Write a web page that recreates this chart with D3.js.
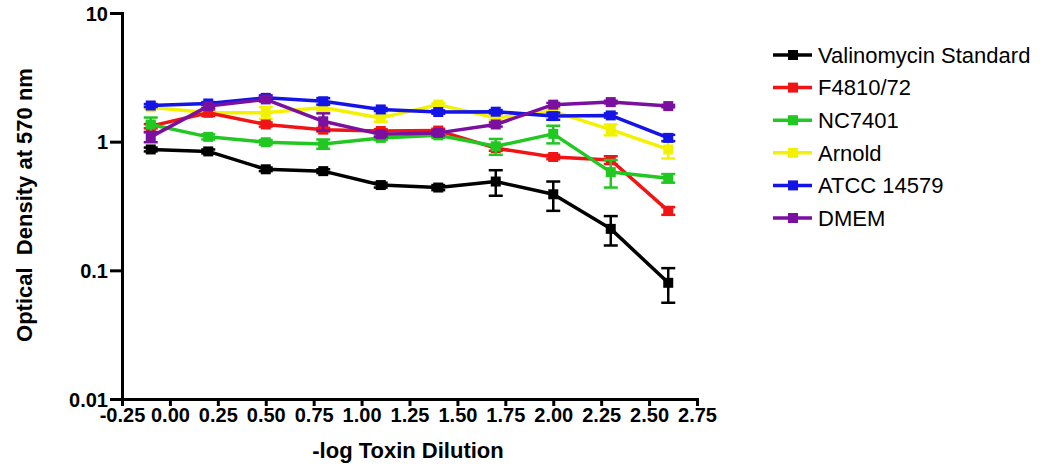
<!DOCTYPE html>
<html>
<head>
<meta charset="utf-8">
<script src="https://cdn.jsdelivr.net/npm/d3@7"></script>
<style>
  body { margin: 0; background: #fff; }
  text { font-family: "Liberation Sans", Arial, sans-serif; }
</style>
</head>
<body>
<div id="chart"></div>
<script>
// toxin dilution (x) and optical density (y) values
var dilution = [-0.1, 0.2, 0.5, 0.8, 1.1, 1.4, 1.7, 2.0, 2.3, 2.6];

var names   = ["Valinomycin Standard", "F4810/72", "NC7401", "Arnold", "ATCC 14579", "DMEM"];
var colours = ["#000000", "#f01414", "#22c822", "#f2f200", "#1414e6", "#7a0fa0"];

var valinomycin    = [0.87, 0.84, 0.61, 0.59, 0.46, 0.44, 0.49, 0.39, 0.21, 0.080];
var valinomycinErr = [0.03, 0.03, 0.02, 0.02, 0.02, 0.02, 0.11, 0.10, 0.054, 0.024];
var f4810    = [1.32, 1.68, 1.36, 1.24, 1.21, 1.22, 0.89, 0.76, 0.72, 0.29];
var f4810Err = [0.05, 0.10, 0.05, 0.04, 0.04, 0.04, 0.04, 0.03, 0.05, 0.02];
var nc7401    = [1.36, 1.09, 0.99, 0.96, 1.07, 1.12, 0.92, 1.15, 0.58, 0.52];
var nc7401Err = [0.18, 0.05, 0.04, 0.08, 0.04, 0.05, 0.13, 0.18, 0.14, 0.04];
var arnold    = [1.85, 1.68, 1.68, 1.84, 1.53, 1.94, 1.53, 1.72, 1.24, 0.87];
var arnoldErr = [0.05, 0.08, 0.18, 0.10, 0.10, 0.05, 0.06, 0.08, 0.12, 0.13];
var atcc    = [1.91, 1.98, 2.19, 2.06, 1.78, 1.70, 1.71, 1.58, 1.60, 1.07];
var atccErr = [0.05, 0.05, 0.10, 0.12, 0.05, 0.05, 0.05, 0.10, 0.06, 0.06];
var dmem    = [1.09, 1.89, 2.13, 1.44, 1.14, 1.17, 1.36, 1.94, 2.03, 1.89];
var dmemErr = [0.10, 0.06, 0.08, 0.22, 0.05, 0.05, 0.05, 0.06, 0.05, 0.04];

var xTicks = [-0.25, 0, 0.25, 0.5, 0.75, 1, 1.25, 1.5, 1.75, 2, 2.25, 2.5, 2.75];
var yTicks = [0.01, 0.1, 1, 10];

var allValues = [valinomycin, f4810, nc7401, arnold, atcc, dmem];
var allErrors = [valinomycinErr, f4810Err, nc7401Err, arnoldErr, atccErr, dmemErr];

var series = names.map(function(n, i) {
    return {
        name: n,
        colour: colours[i],
        points: dilution.map(function(x, j) {
            return {x: x, y: allValues[i][j], e: allErrors[i][j]};
        })
    };
});

var width = 1040, height = 466;
var margin = {top: 13, left: 122};
var plotW = 575, plotH = 386;

var svg = d3.select("#chart").append("svg")
    .attr("width", width)
    .attr("height", height);

var g = svg.append("g")
    .attr("transform", "translate(" + margin.left + "," + margin.top + ")");

var x = d3.scaleLinear().domain([-0.25, 2.75]).range([0, plotW]);
var y = d3.scaleLog().domain([0.01, 10]).range([plotH, 0]);

// axes
var xAxis = g.append("g")
    .attr("transform", "translate(0," + plotH + ")")
    .call(d3.axisBottom(x).tickValues(xTicks)
        .tickFormat(function(d) { return d.toFixed(2); })
        .tickSize(7).tickPadding(2));

var yAxis = g.append("g")
    .call(d3.axisLeft(y).tickValues(yTicks).tickFormat(function(d) { return String(d); }).tickSize(12).tickPadding(2));

[xAxis, yAxis].forEach(function(a) {
    a.select(".domain").attr("stroke", "#000").attr("stroke-width", 3);
    a.selectAll(".tick line").attr("stroke", "#000").attr("stroke-width", 3);
    a.selectAll(".tick text")
        .attr("fill", "#000")
        .style("font-size", "20px")
        .style("font-weight", "bold");
});
yAxis.selectAll(".tick text").attr("dy", "0.36em");

// axis titles
svg.append("text")
    .attr("x", 408)
    .attr("y", 458)
    .attr("text-anchor", "middle")
    .style("font-size", "22px")
    .style("font-weight", "bold")
    .text("-log Toxin Dilution");

svg.append("text")
    .attr("transform", "translate(32,205) rotate(-90)")
    .attr("text-anchor", "middle")
    .style("font-size", "22px")
    .style("font-weight", "bold")
    .style("white-space", "pre")
    .text("Optical  Density at 570 nm");

// draw order: yellow underneath
var drawOrder = [3, 0, 1, 2, 4, 5];

var line = d3.line()
    .x(function(d) { return x(d.x); })
    .y(function(d) { return y(d.y); });

var cap = 7;
var box = 10;

drawOrder.forEach(function(i) {
    var s = series[i];
    var sg = g.append("g");

    // error bars
    var eb = sg.selectAll(".err")
        .data(s.points.filter(function(d) { return d.e > 0; }))
        .enter().append("g");
    eb.append("line")
        .attr("x1", function(d) { return x(d.x); })
        .attr("x2", function(d) { return x(d.x); })
        .attr("y1", function(d) { return y(d.y + d.e); })
        .attr("y2", function(d) { return y(d.y - d.e); })
        .attr("stroke", s.colour).attr("stroke-width", 2.5);
    eb.append("line")
        .attr("x1", function(d) { return x(d.x) - cap; })
        .attr("x2", function(d) { return x(d.x) + cap; })
        .attr("y1", function(d) { return y(d.y + d.e); })
        .attr("y2", function(d) { return y(d.y + d.e); })
        .attr("stroke", s.colour).attr("stroke-width", 2.5);
    eb.append("line")
        .attr("x1", function(d) { return x(d.x) - cap; })
        .attr("x2", function(d) { return x(d.x) + cap; })
        .attr("y1", function(d) { return y(d.y - d.e); })
        .attr("y2", function(d) { return y(d.y - d.e); })
        .attr("stroke", s.colour).attr("stroke-width", 2.5);

    sg.append("path")
        .datum(s.points)
        .attr("d", line)
        .attr("fill", "none")
        .attr("stroke", s.colour)
        .attr("stroke-width", 3.5)
        .attr("stroke-linejoin", "round");

    sg.selectAll("rect")
        .data(s.points)
        .enter().append("rect")
        .attr("x", function(d) { return x(d.x) - box / 2; })
        .attr("y", function(d) { return y(d.y) - box / 2; })
        .attr("width", box)
        .attr("height", box)
        .attr("fill", s.colour);
});

// legend
var legend = svg.append("g").attr("transform", "translate(773,55)");
series.forEach(function(s, i) {
    var row = legend.append("g").attr("transform", "translate(0," + (i * 32.6) + ")");
    row.append("line")
        .attr("x1", 0).attr("x2", 39)
        .attr("y1", 0).attr("y2", 0)
        .attr("stroke", s.colour).attr("stroke-width", 3.5);
    row.append("rect")
        .attr("x", 15).attr("y", -5)
        .attr("width", 10).attr("height", 10)
        .attr("fill", s.colour);
    row.append("text")
        .attr("x", 45)
        .attr("y", 0)
        .attr("dy", "0.35em")
        .style("font-size", "22px")
        .text(s.name);
});
</script>
</body>
</html>
